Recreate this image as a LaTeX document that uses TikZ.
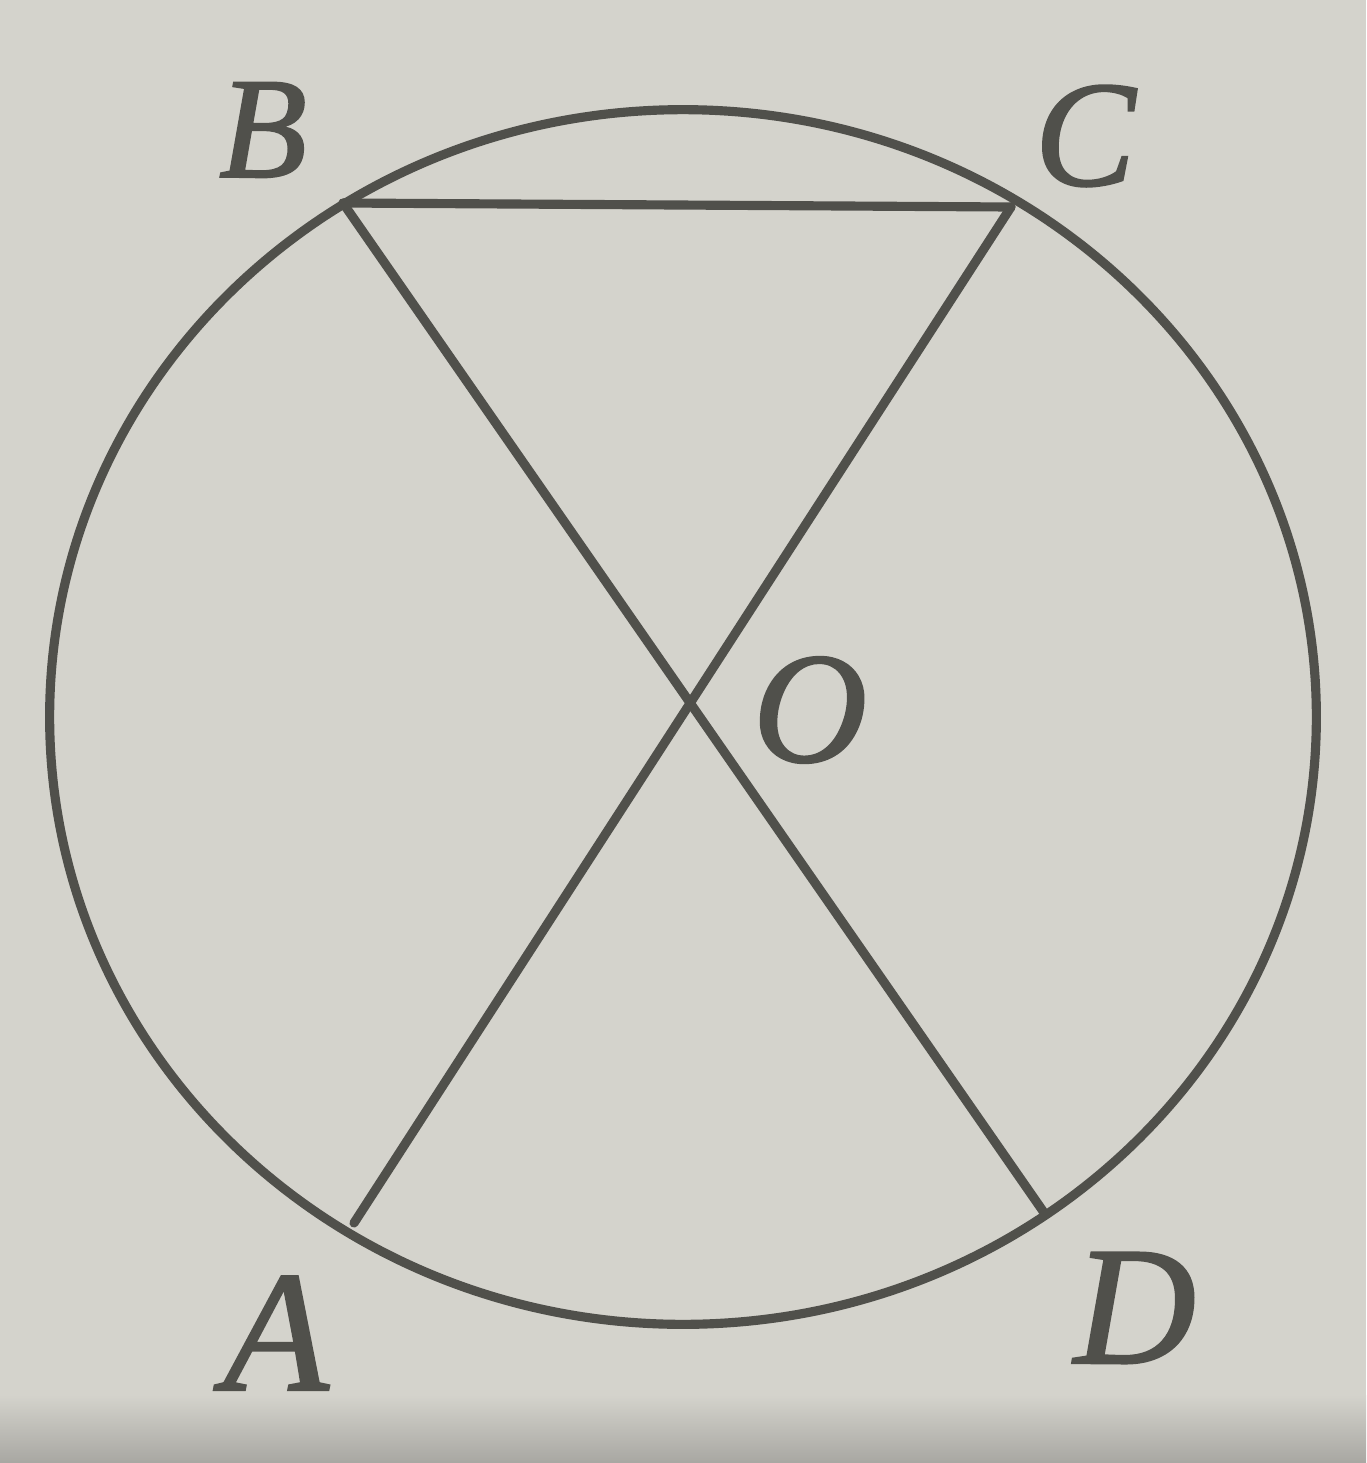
\documentclass[tikz,border=0pt]{standalone}
\usepackage{fontspec}
\setmainfont{Liberation Serif}
\newfontfamily\lblfont[FakeBold=1.3]{Liberation Serif Italic}
\definecolor{paper}{RGB}{212,211,204}
\definecolor{paperdark}{RGB}{168,167,162}
\definecolor{ink}{RGB}{80,80,75}
\begin{document}
\begin{tikzpicture}[x=0.01cm,y=-0.01cm,
  stroke/.style={draw=ink,line width=2.6pt,line cap=round},
  lbl/.style={text=ink,inner sep=0pt}]
\fill[paper] (0,0) rectangle (1366,1463);
\shade[top color=paper,bottom color=paperdark] (0,1395) rectangle (1366,1463);
\useasboundingbox (0,0) rectangle (1366,1463);
\coordinate (Ctr) at (683,717);
\coordinate (B) at (343,203);
\coordinate (C) at (1011,207);
\coordinate (A) at (354,1223);
\coordinate (D) at (1045,1214);
\draw[stroke] (Ctr) ellipse [x radius=6.33cm, y radius=6.07cm];
\draw[stroke] (B) -- (C);
\draw[stroke] (B) -- (D);
\draw[stroke] (C) -- (A);
\node[lbl,font=\lblfont\fontsize{41}{41}\selectfont] (lB) at (263,130) {B};
\node[lbl,font=\lblfont\fontsize{43}{43}\selectfont] (lC) at (1085,136) {C};
\node[lbl,font=\lblfont\fontsize{49}{49}\selectfont] (lA) at (276,1333) {A};
\node[lbl,font=\lblfont\fontsize{48}{48}\selectfont] (lD) at (1135,1308) {D};
\node[lbl,font=\lblfont\fontsize{45}{45}\selectfont] (lO) at (810,710) {O};
\end{tikzpicture}
\end{document}
